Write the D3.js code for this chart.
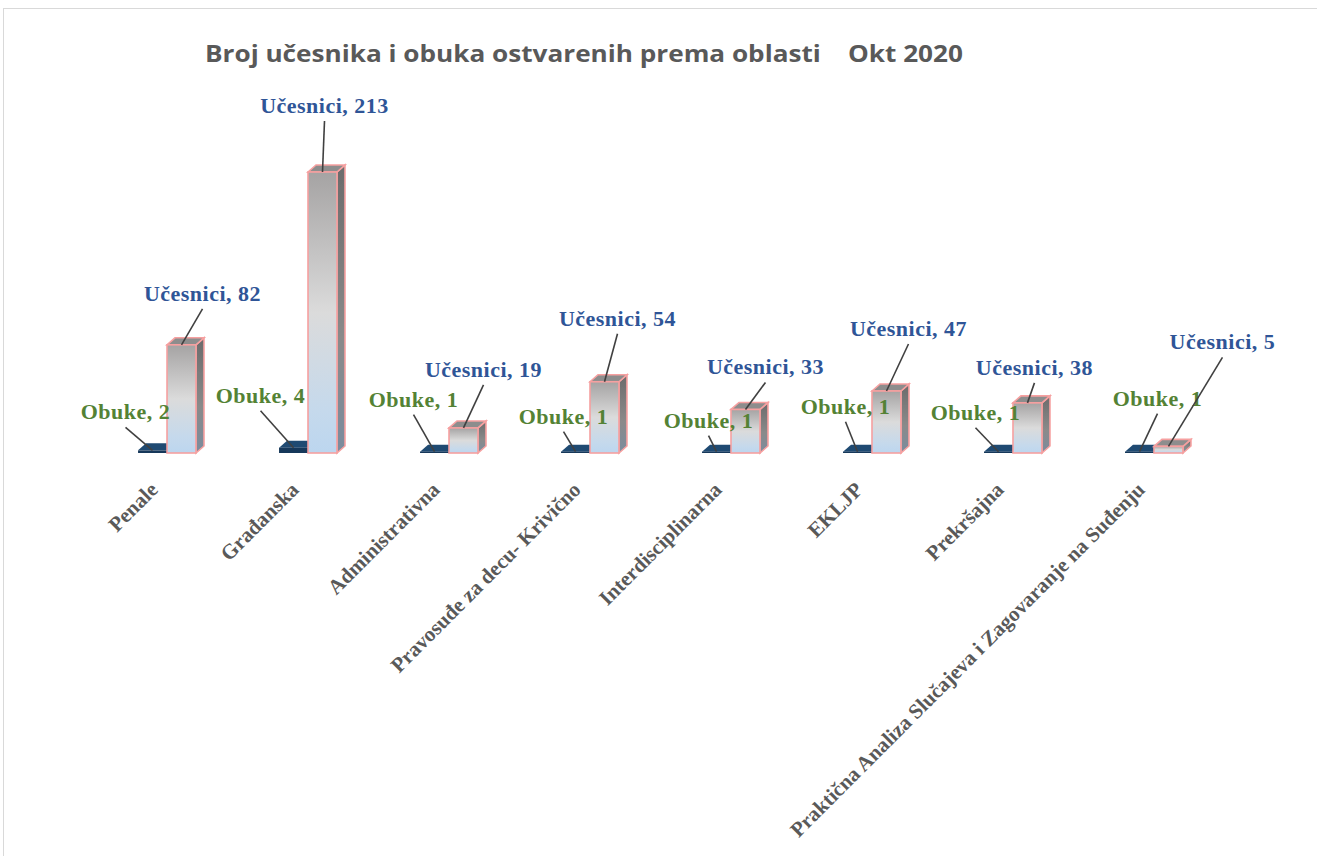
<!DOCTYPE html>
<html>
<head>
<meta charset="utf-8">
<script src="https://cdn.jsdelivr.net/npm/d3@7"></script>
<style>
  body { margin: 0; background: #fff; }
  svg { display: block; }
</style>
</head>
<body>
<div id="chart"></div>
<script>
// data
const categories = ["Penale", "Građanska", "Administrativna", "Pravosuđe za decu- Krivično",
  "Interdisciplinarna", "EKLJP", "Prekršajna", "Praktična Analiza Slučajeva i Zagovaranje na Suđenju"];
const obuke = [2, 4, 1, 1, 1, 1, 1, 1];
const ucesnici = [82, 213, 19, 54, 33, 47, 38, 5];
const seriesNames = ["Obuke", "Učesnici"];

// where excel dropped the data labels (relative to the bar top)
const obukeLabelOff = [[-27,-31],[-33,-45],[-21,-45],[-12,-28],[-8,-24],[-12,-38],[-23,-32],[18,-46]];
const ucesLabelOff = [[21,-44],[2,-59],[20,-51],[13,-56],[20,-35],[22,-55],[7,-28],[54,-97]];

const W = 1317, H = 856;
const depthX = 8, depthY = 7;

const svg = d3.select("#chart").append("svg")
  .attr("width", W).attr("height", H);

const defs = svg.append("defs");
const gFront = defs.append("linearGradient").attr("id", "ucFront")
  .attr("x1", 0).attr("y1", 0).attr("x2", 0).attr("y2", 1);
gFront.append("stop").attr("offset", "0%").attr("stop-color", "#a5a3a3");
gFront.append("stop").attr("offset", "50%").attr("stop-color", "#dbdbdb");
gFront.append("stop").attr("offset", "85%").attr("stop-color", "#c5d9ec");
gFront.append("stop").attr("offset", "100%").attr("stop-color", "#bcd6ef");
const gSide = defs.append("linearGradient").attr("id", "ucSide")
  .attr("x1", 0).attr("y1", 0).attr("x2", 0).attr("y2", 1);
gSide.append("stop").attr("offset", "0%").attr("stop-color", "#6b6b6b");
gSide.append("stop").attr("offset", "60%").attr("stop-color", "#8a8a8a");
gSide.append("stop").attr("offset", "100%").attr("stop-color", "#7b8c9e");
const glow = defs.append("filter").attr("id", "glow")
  .attr("x", "-30%").attr("y", "-30%").attr("width", "160%").attr("height", "160%");
glow.append("feGaussianBlur").attr("stdDeviation", 0.6);

// chart frame
svg.append("rect").attr("x", 3.5).attr("y", 8.5).attr("width", W).attr("height", H)
  .attr("fill", "none").attr("stroke", "#d9d9d9");

svg.append("text")
  .attr("x", 584).attr("y", 62)
  .attr("text-anchor", "middle")
  .attr("font-family", "'Open Sans', sans-serif")
  .attr("font-weight", "bold").attr("font-size", 24)
  .attr("fill", "#595959")
  .attr("textLength", 758).attr("lengthAdjust", "spacingAndGlyphs")
  .style("white-space", "pre")
  .text("Broj učesnika i obuka ostvarenih prema oblasti    Okt 2020");

const x = d3.scaleBand().domain(categories).range([55, 1266])
  .paddingInner(0.589).paddingOuter(0.589);
const xs = d3.scaleBand().domain(seriesNames).range([0, x.bandwidth()]);
const y = d3.scaleLinear().domain([0, 213]).range([453, 172]);

const plot = svg.append("g");

function drawBar(g, x0, w, v, kind) {
  const yt = y(v), yb = y(0);
  if (kind === "Obuke") {
    g.append("polygon")
      .attr("points", [[x0, yt], [x0 + depthX, yt - depthY], [x0 + w + depthX, yt - depthY], [x0 + w, yt]].join(" "))
      .attr("fill", "#1f4a72");
    g.append("rect").attr("x", x0).attr("y", yt).attr("width", w).attr("height", yb - yt)
      .attr("fill", "#16385a");
    return;
  }
  const st = "#f6a0a0";
  g.append("polygon")
    .attr("points", [[x0 + w, yt], [x0 + w + depthX, yt - depthY], [x0 + w + depthX, yb - depthY], [x0 + w, yb]].join(" "))
    .attr("fill", "url(#ucSide)").attr("stroke", st).attr("stroke-width", 1.6).attr("filter", "url(#glow)");
  g.append("polygon")
    .attr("points", [[x0, yt], [x0 + depthX, yt - depthY], [x0 + w + depthX, yt - depthY], [x0 + w, yt]].join(" "))
    .attr("fill", "#8d8d8d").attr("stroke", st).attr("stroke-width", 1.6).attr("filter", "url(#glow)");
  g.append("rect").attr("x", x0).attr("y", yt).attr("width", w).attr("height", yb - yt)
    .attr("fill", "url(#ucFront)").attr("stroke", st).attr("stroke-width", 1.6).attr("filter", "url(#glow)");
}

categories.forEach((c, i) => {
  const g = plot.append("g");
  drawBar(g, x(c) + xs("Obuke"), xs.bandwidth(), obuke[i], "Obuke");
  drawBar(g, x(c) + xs("Učesnici"), xs.bandwidth(), ucesnici[i], "Učesnici");
});

// data labels + leader lines
const labels = svg.append("g")
  .attr("font-family", "'Liberation Serif', 'Times New Roman', serif")
  .attr("font-weight", "bold").attr("font-size", 22)
  .attr("letter-spacing", 0.5)
  .attr("text-anchor", "middle");

function addLabel(cx, top, off, txt, color) {
  const lx = cx + off[0], ly = top + off[1];
  labels.append("line")
    .attr("x1", lx).attr("y1", ly + 8).attr("x2", cx).attr("y2", top)
    .attr("stroke", "#404040").attr("stroke-width", 1.6);
  labels.append("text").attr("x", lx).attr("y", ly).attr("fill", color).text(txt);
}

categories.forEach((c, i) => {
  const w = xs.bandwidth();
  addLabel(x(c) + xs("Obuke") + w / 2, y(obuke[i]), obukeLabelOff[i], "Obuke, " + obuke[i], "#548235");
  addLabel(x(c) + xs("Učesnici") + w / 2, y(ucesnici[i]), ucesLabelOff[i], "Učesnici, " + ucesnici[i], "#2f5597");
});

// category axis, rotated labels
const axisG = svg.append("g");
categories.forEach(c => {
  const ax = x(c) + x.bandwidth() / 2 - 8, ay = 491;
  axisG.append("text")
    .attr("transform", `translate(${ax},${ay}) rotate(-45)`)
    .attr("text-anchor", "end")
    .attr("font-family", "'Liberation Serif', 'Times New Roman', serif")
    .attr("font-weight", "bold").attr("font-size", 21)
    .attr("fill", "#595959")
    .text(c);
});
</script>
</body>
</html>
